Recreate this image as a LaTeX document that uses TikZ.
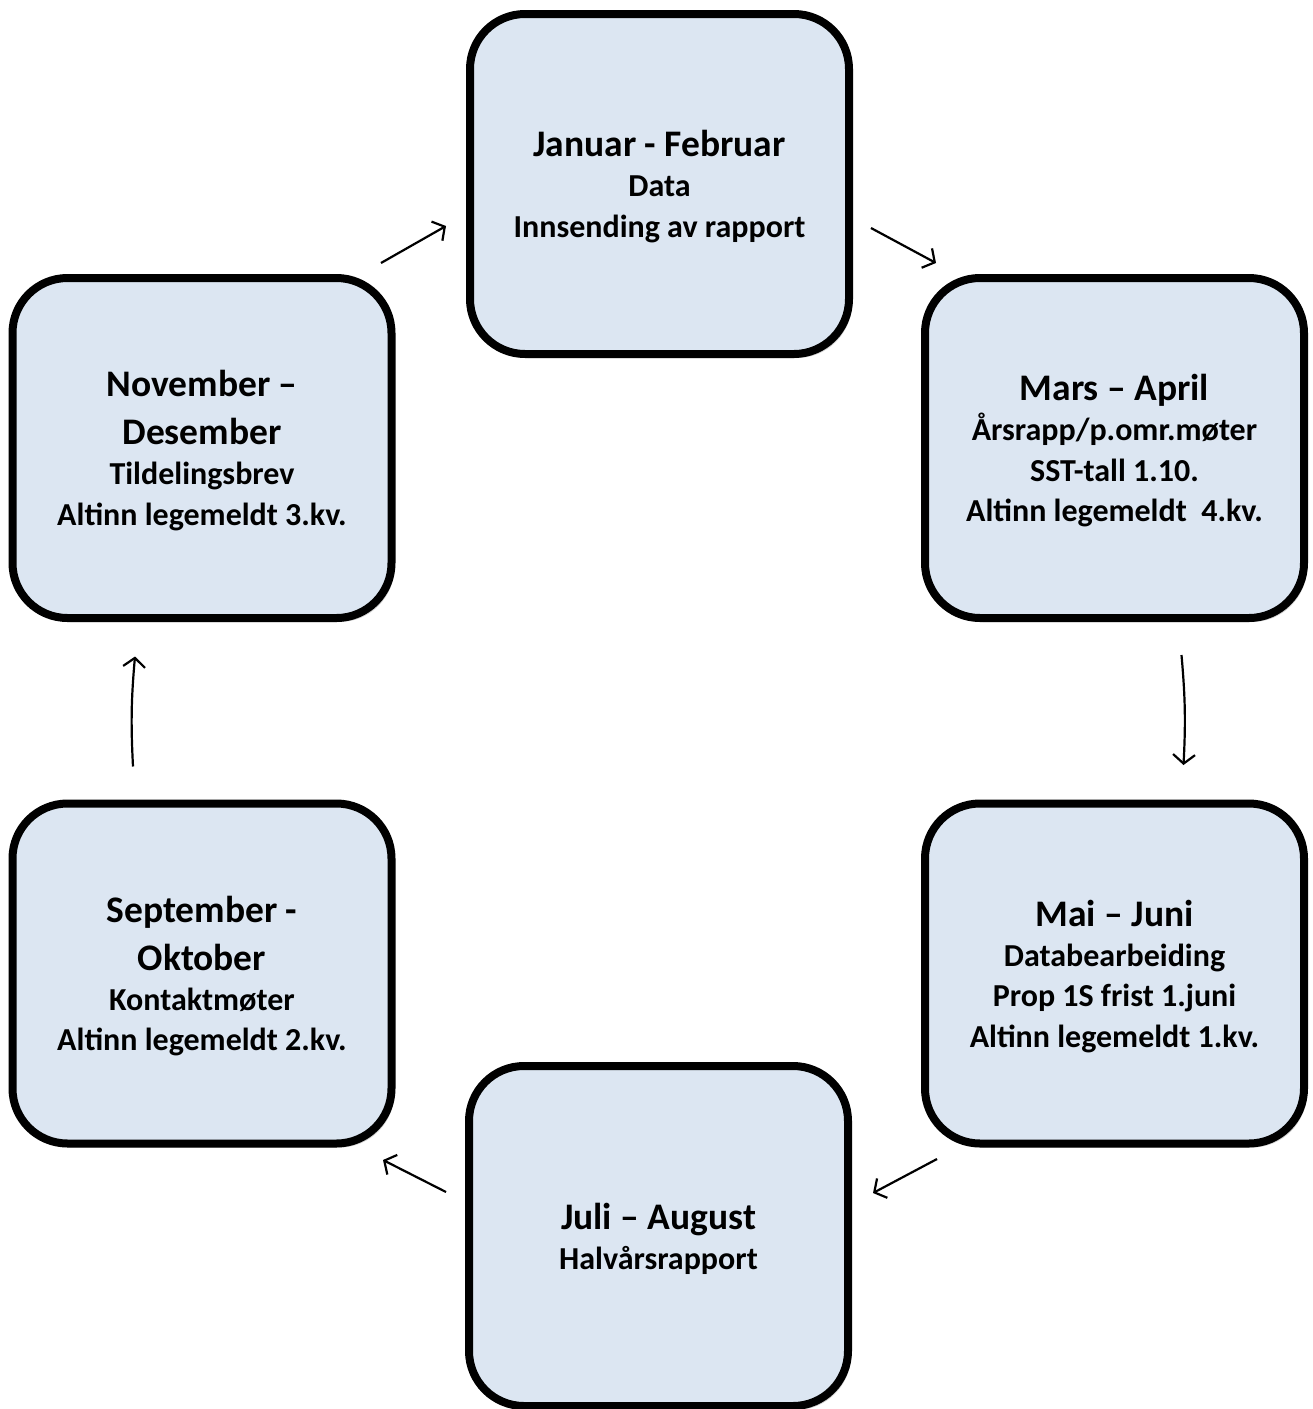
\documentclass[tikz,border=0pt]{standalone}
\usepackage{fontspec}
\setmainfont{Carlito}
\usetikzlibrary{arrows.meta,shadows}
\definecolor{boxfill}{HTML}{DCE6F2}
\newcommand{\titf}{\fontsize{37.5}{40.5}\selectfont\bfseries}
\newcommand{\subf}{\fontsize{32}{40.5}\selectfont\bfseries\lineskiplimit=-100pt\relax}
\tikzset{
  monthbox/.style={draw=black, line width=8pt, fill=boxfill, rounded corners=55pt,
    minimum width=379pt, minimum height=340pt, inner sep=0pt, align=center,
    font=\subf, text depth=0pt,
    drop shadow={shadow xshift=3pt, shadow yshift=-4pt, opacity=0.18, fill=black}},
  cyclearrow/.style={line width=2.2pt, -{Straight Barb[length=9pt, width=22pt, line width=2.2pt]}}
}
\begin{document}
\begin{tikzpicture}[x=1pt, y=-1pt]
\useasboundingbox (0,0) rectangle (1313,1409);
\node[monthbox] (jan) at (659.5,184) {{\titf Januar - Februar}\\[-0.5pt]Data\\Innsending av rapport};
\node[monthbox] (mar) at (1114.5,448) {{\titf Mars – April}\\[-0.5pt]Årsrapp/p.omr.møter\\SST-tall 1.10.\\Altinn legemeldt\ \ 4.kv.};
\node[monthbox] (mai) at (1114.5,973.5) {{\titf Mai – Juni}\\[-0.5pt]Databearbeiding\\Prop 1S frist 1.juni\\Altinn legemeldt 1.kv.};
\node[monthbox] (jul) at (658.5,1236) {{\titf Juli – August}\\[-0.5pt]Halvårsrapport};
\node[monthbox] (sep) at (202,973.5) {{\titf September -}\\[7.5pt]{\titf Oktober}\\[-0.5pt]Kontaktmøter\\Altinn legemeldt 2.kv.};
\node[monthbox] (nov) at (202,448) {{\titf November –}\\[7.5pt]{\titf Desember}\\[-0.5pt]Tildelingsbrev\\Altinn legemeldt 3.kv.};
% arrow end points placed relative to the boxes
\coordinate (a1s) at ([shift={(-85,79)}]jan.west);
\coordinate (a1e) at ([shift={(-20,42)}]jan.west);
\coordinate (a2s) at ([shift={(18,44)}]jan.east);
\coordinate (a2e) at ([shift={(83,79)}]jan.east);
\coordinate (a3s) at ([shift={(67,33)}]mar.south);
\coordinate (a3e) at ([shift={(69,143)}]mar.south);
\coordinate (a4s) at ([shift={(16,185.5)}]mai.west);
\coordinate (a4e) at ([shift={(-48,219.5)}]mai.west);
\coordinate (a5s) at ([shift={(-19,-44)}]jul.west);
\coordinate (a5e) at ([shift={(-82,-76)}]jul.west);
\coordinate (a6s) at ([shift={(-69,-33)}]sep.north);
\coordinate (a6e) at ([shift={(-67,-143)}]sep.north);
\draw[cyclearrow] (a1s) -- (a1e);
\draw[cyclearrow] (a2s) -- (a2e);
\draw[cyclearrow] (a3s) to[bend left=4] (a3e);
\draw[cyclearrow] (a4s) -- (a4e);
\draw[cyclearrow] (a5s) -- (a5e);
\draw[cyclearrow] (a6s) to[bend left=4] (a6e);
\end{tikzpicture}
\end{document}
